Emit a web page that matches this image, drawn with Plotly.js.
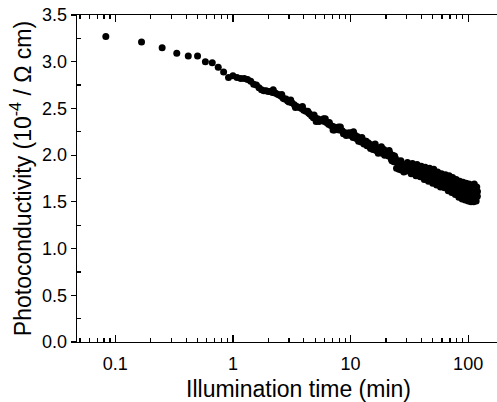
<!DOCTYPE html>
<html>
<head>
<meta charset="utf-8">
<script src="https://cdn.plot.ly/plotly-3.0.1.min.js"></script>
<style>
html,body{margin:0;padding:0;width:497px;height:402px;overflow:hidden;background:#fff;}
#chart{width:520px;height:402px;}
</style>
</head>
<body>
<div id="chart"></div>
<script>
// Illumination time (min)
const timeMin = [
0.083,0.167,0.25,0.333,0.417,0.5,0.583,0.667,0.75,0.833,0.917,1.0,
1.083,1.167,1.25,1.333,1.417,1.5,1.583,1.667,1.75,1.833,1.917,2.0,
2.08,2.17,2.25,2.33,2.42,2.5,2.58,2.67,2.75,2.83,2.92,3.0,3.17,3.33,3.5,3.67,3.83,
4.0,4.17,4.33,4.5,4.67,4.83,5.0,5.1,5.25,5.5,5.75,6.0,6.1,6.25,6.5,6.75,7.0,7.1,7.25,
7.5,7.75,8.0,8.2,8.5,9.0,9.2,9.5,10.0,
10.2,10.5,10.8,11.1,11.4,11.7,12.0,12.3,12.7,13.0,13.4,13.8,14.2,14.6,15.0,15.5,
16.0,16.5,17.0,17.5,18.0,18.6,19.2,19.8,20.4,21.0,21.6,22.2,22.8,23.4,24.0,24.6,
25.2,25.8,26.4,27.0,27.7,28.4,29.1,29.8,
30.5,31.2,32.0,32.8,33.6,34.4,35.2,36.0,36.8,37.6,38.4,39.2,40.0,40.8,41.6,42.4,
43.2,44.0,45.0,46.0,47.0,48.0,49.0,50.0,51.0,52.0,53.0,54.0,55.0,56.0,57.0,58.2,
59.4,60.6,61.8,63.0,64.2,65.4,66.6,67.8,69.0,70.2,71.4,72.6,73.8,75.0,76.4,77.8,
79.2,80.6,82.0,83.4,84.8,86.2,87.6,89.0,90.4,91.8,93.2,94.6,96.0,97.4,98.8,100.2,
101.6,103.0,104.4,105.8,107.2,108.6,110.0,111.4,112.8,114.2,115.6,117.0,118.4,119.8,120.0
];
// Photoconductivity (10^-4 / Ohm cm)
const photoCond = [
3.27,3.21,3.15,3.09,3.06,3.06,3.00,2.99,2.94,2.89,2.83,2.85,
2.83,2.82,2.82,2.81,2.79,2.76,2.75,2.72,2.70,2.69,2.69,2.68,
2.68,2.67,2.67,2.66,2.65,2.64,2.63,2.61,2.60,2.60,2.58,2.57,2.56,2.54,2.52,2.51,2.50,
2.48,2.47,2.47,2.44,2.42,2.40,2.40,2.36,2.39,2.38,2.37,2.36,2.39,2.35,2.33,2.32,2.31,2.27,2.30,
2.29,2.28,2.27,2.30,2.26,2.24,2.21,2.22,2.21,
2.24,2.19,2.22,2.18,2.20,2.15,2.18,2.14,2.16,2.12,2.15,2.10,2.13,2.09,2.11,2.06,
2.10,2.05,2.08,2.04,2.07,2.02,2.06,2.01,2.04,1.99,2.02,1.96,2.00,1.93,1.97,1.86,
1.94,1.85,1.92,1.84,1.90,1.82,1.89,1.83,
1.92,1.84,1.88,1.80,1.91,1.83,1.87,1.78,1.90,1.82,1.86,1.77,1.88,1.80,1.84,1.74,
1.87,1.78,1.83,1.72,1.86,1.76,1.81,1.70,1.85,1.74,1.79,1.68,1.82,1.72,1.77,1.66,
1.80,1.70,1.75,1.65,1.79,1.68,1.73,1.62,1.78,1.66,1.71,1.60,1.76,1.64,1.69,1.58,
1.74,1.62,1.67,1.55,1.72,1.60,1.65,1.53,1.71,1.58,1.64,1.52,1.70,1.57,1.63,1.51,
1.69,1.56,1.62,1.50,1.68,1.55,1.61,1.50,1.69,1.55,1.60,1.51,1.66,1.56,1.61
];
// extra scattered readings in the dense part of the band
const timeMinExtra = [
2.2,2.6,3.1,3.4,3.9,4.4,4.9,5.4,5.9,6.6,7.3,7.9,8.7,9.7,
10.6,11.5,12.5,13.6,14.8,16.2,17.2,18.3,19.5,21.3,22.5,23.7,25.5,26.8,28.8
];
const photoCondExtra = [
2.70,2.65,2.59,2.51,2.52,2.45,2.43,2.36,2.39,2.35,2.27,2.30,2.23,2.24,
2.25,2.17,2.19,2.15,2.07,2.12,2.02,2.09,2.00,2.05,1.94,1.99,1.89,1.94,1.86
];
const xTickVals = [0.1, 1, 10, 100];
const xTickText = ['0.1', '1', '10', '100'];
const xMinorVals = [0.05,0.06,0.07,0.08,0.09,0.2,0.3,0.4,0.5,0.6,0.7,0.8,0.9,
  2,3,4,5,6,7,8,9,20,30,40,50,60,70,80,90,200,300];
const yTickVals = [0.0, 0.5, 1.0, 1.5, 2.0, 2.5, 3.0, 3.5];
const yTickText = ['0.0', '0.5', '1.0', '1.5', '2.0', '2.5', '3.0', '3.5'];
const yMinorVals = [0.25, 0.75, 1.25, 1.75, 2.25, 2.75, 3.25];

const font = 'Liberation Sans, Arial, sans-serif';
const leftLog = -1.326, pxPerDecade = 117.6;
const W = 520, H = 402, ml = 77, mr = 0, mt = 15, mb = 60;
const rightLog = leftLog + (W - ml - mr) / pxPerDecade;

Plotly.newPlot('chart', [{
  x: timeMin.concat(timeMinExtra), y: photoCond.concat(photoCondExtra),
  type: 'scatter', mode: 'markers',
  marker: {color: '#000', size: 7, line: {width: 0}},
  hoverinfo: 'x+y'
}], {
  width: W, height: H,
  margin: {l: ml, r: mr, t: mt, b: mb, pad: 0},
  paper_bgcolor: '#fff', plot_bgcolor: '#fff',
  showlegend: false,
  font: {family: font, color: '#000'},
  xaxis: {
    type: 'log', range: [leftLog, rightLog],
    tickmode: 'array', tickvals: xTickVals, ticktext: xTickText,
    ticks: 'inside', ticklen: 7, tickwidth: 1.2, tickcolor: '#000',
    minor: {tickmode: 'array', tickvals: xMinorVals, ticks: 'inside', ticklen: 4, tickwidth: 1.2, tickcolor: '#000', showgrid: false},
    showline: true, linewidth: 1.3, linecolor: '#000', mirror: 'ticks',
    showgrid: false, zeroline: false,
    tickfont: {family: font, size: 18, color: '#000'},
    ticklabelstandoff: 5,
    title: {text: 'Illumination time (min)', font: {family: font, size: 23, color: '#000'}, standoff: 10}
  },
  yaxis: {
    range: [0, 3.5],
    tickmode: 'array', tickvals: yTickVals, ticktext: yTickText,
    ticks: 'outside', ticklen: 5, tickwidth: 1.2, tickcolor: '#000',
    minor: {tickmode: 'array', tickvals: yMinorVals, ticks: 'inside', ticklen: 4, tickwidth: 1.2, tickcolor: '#000', showgrid: false},
    showline: true, linewidth: 1.3, linecolor: '#000',
    showgrid: false, zeroline: false,
    tickfont: {family: font, size: 18, color: '#000'},
    title: {text: 'Photoconductivity (10<sup>-4</sup> / Ω cm)', font: {family: font, size: 23, color: '#000'}, standoff: 4}
  }
}, {displayModeBar: false, staticPlot: true});
</script>
</body>
</html>
